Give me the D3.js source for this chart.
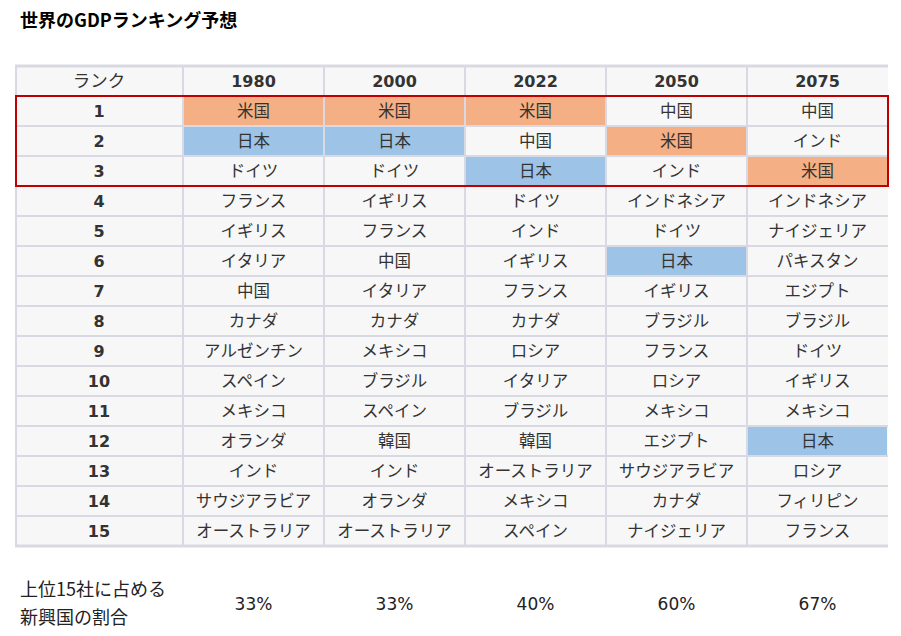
<!DOCTYPE html>
<html><head><meta charset="utf-8">
<script src="https://cdn.jsdelivr.net/npm/d3@7"></script>
<style>body{margin:0;background:#fff;}</style>
</head><body>
<svg id="c" width="901" height="636" font-family="'Noto Sans CJK JP','Noto Sans',sans-serif"></svg>
<script>
const title = "世界のGDPランキング予想";
const rankHeader = "ランク";
const years = ["1980","2000","2022","2050","2075"];
const ranks = [1,2,3,4,5,6,7,8,9,10,11,12,13,14,15];
const rank1980 = ["米国","日本","ドイツ","フランス","イギリス","イタリア","中国","カナダ","アルゼンチン","スペイン","メキシコ","オランダ","インド","サウジアラビア","オーストラリア"];
const rank2000 = ["米国","日本","ドイツ","イギリス","フランス","中国","イタリア","カナダ","メキシコ","ブラジル","スペイン","韓国","インド","オランダ","オーストラリア"];
const rank2022 = ["米国","中国","日本","ドイツ","インド","イギリス","フランス","カナダ","ロシア","イタリア","ブラジル","韓国","オーストラリア","メキシコ","スペイン"];
const rank2050 = ["中国","米国","インド","インドネシア","ドイツ","日本","イギリス","ブラジル","フランス","ロシア","メキシコ","エジプト","サウジアラビア","カナダ","ナイジェリア"];
const rank2075 = ["中国","インド","米国","インドネシア","ナイジェリア","パキスタン","エジプト","ブラジル","ドイツ","イギリス","メキシコ","日本","ロシア","フィリピン","フランス"];
const emergingShare = ["33%","33%","40%","60%","67%"];
const shareLabel = ["上位15社に占める","新興国の割合"];
const highlight = {"米国":"#f4b084","日本":"#9dc3e6"};

const columns = [rank1980, rank2000, rank2022, rank2050, rank2075];
const svg = d3.select("#c");
const numFont = "'DejaVu Sans',sans-serif";

const x = d3.scaleBand().domain(years).range([183, 888]);
const rowKeys = ["h", ...ranks];
const y = d3.scaleBand().domain(rowKeys).range([66, 546]);
const rankX0 = 15, rankX1 = 183;
const grid = "#d9d9e3";

svg.append("text").attr("x",20).attr("y",27).attr("font-size",18).attr("font-weight","bold").attr("fill","#000").text(title);

// backgrounds
svg.append("rect").attr("x",rankX0).attr("y",65).attr("width",888-rankX0).attr("height",546-65).attr("fill","#f7f7f7");

// colored cells
years.forEach((yr,ci)=>{
  columns[ci].forEach((name,ri)=>{
    if(highlight[name]){
      svg.append("rect").attr("x",x(yr)+1).attr("y",y(ranks[ri])+1)
        .attr("width",x.bandwidth()-2).attr("height",y.bandwidth()-2).attr("fill",highlight[name]);
    }
  });
});

// grid lines
const g = svg.append("g").attr("stroke",grid).attr("stroke-width",2);
rowKeys.forEach(k=>{ g.append("line").attr("x1",rankX0).attr("x2",888).attr("y1",y(k)).attr("y2",y(k)); });
g.append("line").attr("x1",rankX0).attr("x2",888).attr("y1",546).attr("y2",546).attr("stroke-width",3);
[rankX0+1, ...years.map(d=>x(d))].forEach(px=>{ g.append("line").attr("x1",px).attr("x2",px).attr("y1",65).attr("y2",547); });
g.append("line").attr("x1",rankX0).attr("x2",888).attr("y1",66).attr("y2",66).attr("stroke-width",3);

// header
const hy = y("h")+y.bandwidth()/2+6;
svg.append("text").attr("x",(rankX0+rankX1)/2).attr("y",hy).attr("text-anchor","middle").attr("font-size",17.5).attr("fill","#333").text(rankHeader);
years.forEach(yr=>{
  svg.append("text").attr("x",x(yr)+x.bandwidth()/2).attr("y",hy).attr("text-anchor","middle").attr("font-size",16).attr("font-weight","bold").attr("font-family",numFont).attr("fill","#333").text(yr);
});

// rows
ranks.forEach((r,ri)=>{
  const cy = y(r)+y.bandwidth()/2+6;
  svg.append("text").attr("x",(rankX0+rankX1)/2).attr("y",cy).attr("text-anchor","middle").attr("font-size",16).attr("font-weight","bold").attr("font-family",numFont).attr("fill","#333").text(r);
  years.forEach((yr,ci)=>{
    svg.append("text").attr("x",x(yr)+x.bandwidth()/2).attr("y",cy).attr("text-anchor","middle").attr("font-size",16.5).attr("fill","#333").text(columns[ci][ri]);
  });
});

// red box for top 3
svg.append("rect").attr("x",rankX0+1).attr("y",y(1)).attr("width",888-rankX0-1).attr("height",y(4)-y(1))
  .attr("fill","none").attr("stroke","#c00000").attr("stroke-width",2);

// bottom share
svg.append("text").attr("x",20).attr("y",596).attr("font-size",18).attr("fill","#222").text(shareLabel[0]);
svg.append("text").attr("x",20).attr("y",624).attr("font-size",18).attr("fill","#222").text(shareLabel[1]);
years.forEach((yr,ci)=>{
  svg.append("text").attr("x",x(yr)+x.bandwidth()/2).attr("y",610).attr("text-anchor","middle").attr("font-size",17).attr("font-family",numFont).attr("fill","#222").text(emergingShare[ci]);
});
</script>
</body></html>
